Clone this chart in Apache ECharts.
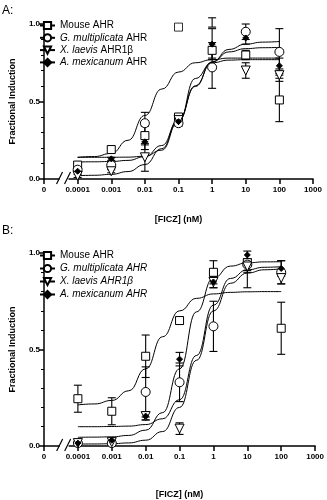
<!DOCTYPE html>
<html><head><meta charset="utf-8">
<script src="https://cdn.jsdelivr.net/npm/echarts@6/dist/echarts.min.js"></script>
<style>html,body{margin:0;padding:0;background:#fff}#c{width:327px;height:500px}</style>
</head><body><div id="c"></div>
<script>
// ---------- data ----------
const conc = [0.0001, 0.001, 0.01, 0.1, 1, 10, 100];
const curveConc = [0.0001, 0.000316, 0.001, 0.00316, 0.01, 0.0316, 0.1, 0.316, 1, 3.16, 10, 31.6, 100];
const xTickLabels = ['0', '0.0001', '0.001', '0.01', '0.1', '1', '10', '100', '1000'];
const seriesNames = ['Mouse AHR', 'G. multiplicata AHR', 'X. laevis AHR1β', 'A. mexicanum AHR'];
const speciesA = ['', 'G. multiplicata', 'X. laevis', 'A. mexicanum'];
const suffixA = ['Mouse AHR', 'AHR', 'AHR1β', 'AHR'];

// Panel A
const mouseA = [0.09, 0.19, 0.28, 0.40, 0.83, 0.80, 0.51];
const multA = [0.06, 0.09, 0.36, 0.36, 0.72, 0.95, 0.82];
const laevisA = [0.02, 0.05, 0.14, 0.38, 1.01, 0.70, 0.67];
const mexA = [0.05, 0.13, 0.24, 0.37, 0.87, 0.91, 0.73];
const mouseErrA = [0.01, 0.02, 0.06, 0.02, 0.05, 0.03, 0.14];
const multErrA = [0.01, 0.02, 0.07, 0.02, 0.135, 0.05, 0.15];
const laevisErrA = [0.01, 0.01, 0.09, 0.02, 0.03, 0.05, 0.04];
const mexErrA = [0.01, 0.01, 0.05, 0.02, 0.10, 0.04, 0.05];
const mouseExtraConcA = [0.1];
const mouseExtraA = [0.98];
const mouseCurveA = [0.14, 0.145, 0.165, 0.25, 0.41, 0.58, 0.69, 0.75, 0.77, 0.78, 0.78, 0.78, 0.78];
const multCurveA = [0.110, 0.111, 0.113, 0.120, 0.144, 0.216, 0.38, 0.601, 0.755, 0.820, 0.841, 0.847, 0.849];
const laevisCurveA = [0.021, 0.024, 0.030, 0.048, 0.093, 0.196, 0.38, 0.597, 0.755, 0.836, 0.870, 0.883, 0.887];
const mexCurveA = [0.14, 0.14, 0.14, 0.141, 0.147, 0.186, 0.37, 0.648, 0.75, 0.767, 0.77, 0.77, 0.77];

// Panel B
const mouseB = [0.245, 0.18, 0.465, 0.65, 0.90, 0.95, 0.61];
const multB = [0.015, 0.015, 0.28, 0.33, 0.62, 0.94, 0.90];
const laevisB = [0.015, 0.02, 0.155, 0.09, 0.85, 0.93, 0.87];
const mexB = [0.015, 0.03, 0.155, 0.45, 0.85, 0.99, 0.92];
const mouseErrB = [0.07, 0.07, 0.11, 0.02, 0.06, [0.13, 0.02], 0.135];
const multErrB = [0.005, 0.005, 0.13, 0.10, 0.13, 0.03, 0.06];
const laevisErrB = [0.005, 0.005, 0.02, 0.03, 0.03, 0.03, 0.03];
const mexErrB = [0.005, 0.01, 0.02, 0.035, 0.03, 0.02, 0.04];
const mouseCurveB = [0.213, 0.218, 0.236, 0.286, 0.40, 0.566, 0.70, 0.765, 0.788, 0.796, 0.799, 0.80, 0.80];
const multCurveB = [0.10, 0.10, 0.101, 0.103, 0.111, 0.141, 0.24, 0.469, 0.73, 0.868, 0.913, 0.926, 0.929];
const laevisCurveB = [0.010, 0.0105, 0.0117, 0.0159, 0.030, 0.075, 0.20, 0.444, 0.70, 0.843, 0.896, 0.913, 0.918];
const mexCurveB = [0.045, 0.046, 0.0475, 0.0548, 0.082, 0.173, 0.40, 0.695, 0.87, 0.932, 0.949, 0.954, 0.955];

// ---------- chart ----------
const FONT = '"Liberation Sans", Arial, sans-serif';
const marks = [
  {symbol: 'rect', size: 8, rotate: 0, fill: '#fff'},
  {symbol: 'circle', size: 9, rotate: 0, fill: '#fff'},
  {symbol: 'triangle', size: 9, rotate: 180, fill: '#fff'},
  {symbol: 'diamond', size: 6, rotate: 0, fill: '#000'}
];
const chart = echarts.init(document.getElementById('c'));

function errData(vals, errs, cx) {
  return cx.map((c, i) => {
    const e = errs[i];
    const lo = Array.isArray(e) ? e[0] : e;
    const hi = Array.isArray(e) ? e[1] : e;
    return [c, vals[i] - lo, vals[i] + hi];
  });
}
function errSeries(gi, data) {
  return {
    type: 'custom', xAxisIndex: gi, yAxisIndex: gi, silent: true, z: 2, animation: false,
    data: data, encode: {x: 0, y: [1, 2]},
    renderItem: function (params, api) {
      const x = api.value(0);
      const a = api.coord([x, api.value(1)]);
      const b = api.coord([x, api.value(2)]);
      const w = 4;
      const st = {stroke: '#000', lineWidth: 1.1};
      return {type: 'group', children: [
        {type: 'line', shape: {x1: a[0], y1: a[1], x2: b[0], y2: b[1]}, style: st},
        {type: 'line', shape: {x1: a[0] - w, y1: a[1], x2: a[0] + w, y2: a[1]}, style: st},
        {type: 'line', shape: {x1: b[0] - w, y1: b[1], x2: b[0] + w, y2: b[1]}, style: st}
      ]};
    }
  };
}

const series = [];
function addPanel(gi, prefix, vals, errs, curves) {
  for (let i = 0; i < 4; i++) {
    const m = marks[i];
    series.push({
      type: 'line', name: prefix + seriesNames[i], xAxisIndex: gi, yAxisIndex: gi,
      data: curveConc.map((c, k) => [c, curves[i][k]]),
      smooth: 0.5, smoothMonotone: 'x', showSymbol: false,
      symbol: m.symbol, symbolSize: m.size, symbolRotate: m.rotate,
      itemStyle: {color: m.fill, borderColor: '#000', borderWidth: 1},
      lineStyle: {color: '#000', width: 1}, z: 1, silent: true, animation: false
    });
  }
  for (let i = 0; i < 4; i++) series.push(errSeries(gi, errData(vals[i], errs[i], conc)));
  for (let i = 0; i < 4; i++) {
    const m = marks[i];
    series.push({
      type: 'scatter', name: prefix + seriesNames[i] + ' pts', xAxisIndex: gi, yAxisIndex: gi,
      data: conc.map((c, k) => [c, vals[i][k]]),
      symbol: m.symbol, symbolSize: m.size, symbolRotate: m.rotate,
      itemStyle: {color: m.fill, borderColor: '#000', borderWidth: 1, opacity: 1},
      z: 3, silent: true, animation: false
    });
  }
}
addPanel(0, 'A:', [mouseA, multA, laevisA, mexA], [mouseErrA, multErrA, laevisErrA, mexErrA],
  [mouseCurveA, multCurveA, laevisCurveA, mexCurveA]);
addPanel(1, 'B:', [mouseB, multB, laevisB, mexB], [mouseErrB, multErrB, laevisErrB, mexErrB],
  [mouseCurveB, multCurveB, laevisCurveB, mexCurveB]);
series.push({
  type: 'scatter', name: 'A:Mouse AHR extra', xAxisIndex: 0, yAxisIndex: 0,
  data: mouseExtraConcA.map((c, k) => [c, mouseExtraA[k]]),
  symbol: 'rect', symbolSize: 8, itemStyle: {color: '#fff', borderColor: '#000', borderWidth: 1},
  z: 3, silent: true, animation: false
});

function xAxis(gi, gap) {
  return {
    type: 'log', logBase: 10, gridIndex: gi, min: 0.00001, max: 1000,
    name: '[FICZ] (nM)', nameLocation: 'middle', nameGap: gap,
    nameTextStyle: {fontFamily: FONT, fontSize: 9, fontWeight: 'bold', color: '#000'},
    axisLine: {lineStyle: {color: '#000', width: 1.5}},
    axisTick: {length: 5, lineStyle: {color: '#000', width: 1.5}},
    minorTick: {show: false}, splitLine: {show: false},
    axisLabel: {fontFamily: FONT, fontSize: 8, fontWeight: 'bold', color: '#000', margin: 7,
      formatter: v => xTickLabels[Math.round(Math.log10(v)) + 5]}
  };
}
function yAxis(gi) {
  return {
    type: 'value', gridIndex: gi, min: 0, max: 1, interval: 0.5,
    name: 'Fractional Induction', nameLocation: 'middle', nameGap: 27,
    nameTextStyle: {fontFamily: FONT, fontSize: 9, fontWeight: 'bold', color: '#000'},
    axisLine: {show: true, lineStyle: {color: '#000', width: 1.5}},
    axisTick: {show: true, length: 5, lineStyle: {color: '#000', width: 1.5}},
    minorTick: {show: true, splitNumber: 5, length: 3, lineStyle: {color: '#000', width: 1}},
    splitLine: {show: false},
    axisLabel: {fontFamily: FONT, fontSize: 8, fontWeight: 'bold', color: '#000', margin: 4,
      formatter: v => v.toFixed(1)}
  };
}
const richText = {
  n: {fontFamily: FONT, fontSize: 10, color: '#000'},
  i: {fontFamily: FONT, fontSize: 10, color: '#000', fontStyle: 'italic'}
};
function legend(prefix, top, gap, allItalic) {
  return {
    data: seriesNames.map(n => prefix + n), left: 39, top: top, orient: 'vertical',
    itemWidth: 15, itemHeight: 9, itemGap: gap, selectedMode: false, padding: 0,
    textStyle: {fontFamily: FONT, fontSize: 10, color: '#000', rich: richText},
    formatter: function (name) {
      const i = seriesNames.indexOf(name.slice(prefix.length));
      if (i === 0) return '{n|' + seriesNames[0] + '}';
      if (allItalic) return '{i|' + seriesNames[i] + '}';
      return '{i|' + speciesA[i] + '} {n|' + suffixA[i] + '}';
    }
  };
}

chart.setOption({
  animation: false,
  grid: [
    {left: 33, top: 24, width: 280, height: 155},
    {left: 33, top: 253, width: 284, height: 194}
  ],
  xAxis: [xAxis(0, 36), xAxis(1, 44)],
  yAxis: [yAxis(0), yAxis(1)],
  legend: [legend('A:', 20.5, 2.3, false), legend('B:', 250.5, 3, true)],
  series: series
});

// panel labels and axis breaks
const graphics = [
  {type: 'text', left: 2, top: 5, style: {text: 'A:', font: '12px ' + FONT, fill: '#000'}},
  {type: 'text', left: 2, top: 225, style: {text: 'B:', font: '12px ' + FONT, fill: '#000'}}
];
[0, 1].forEach(gi => {
  const p = chart.convertToPixel({gridIndex: gi}, [Math.pow(10, -4.39), 0]);
  const cx = p[0], cy = p[1];
  graphics.push({type: 'rect', shape: {x: cx - 5, y: cy - 2, width: 9, height: 4}, style: {fill: '#fff'}, z: 50});
  graphics.push({type: 'line', shape: {x1: cx - 8, y1: cy + 5, x2: cx - 2, y2: cy - 7}, style: {stroke: '#000', lineWidth: 1.2}, z: 51});
  graphics.push({type: 'line', shape: {x1: cx, y1: cy + 5, x2: cx + 6, y2: cy - 7}, style: {stroke: '#000', lineWidth: 1.2}, z: 51});
});
chart.setOption({graphic: graphics});
</script></body></html>
